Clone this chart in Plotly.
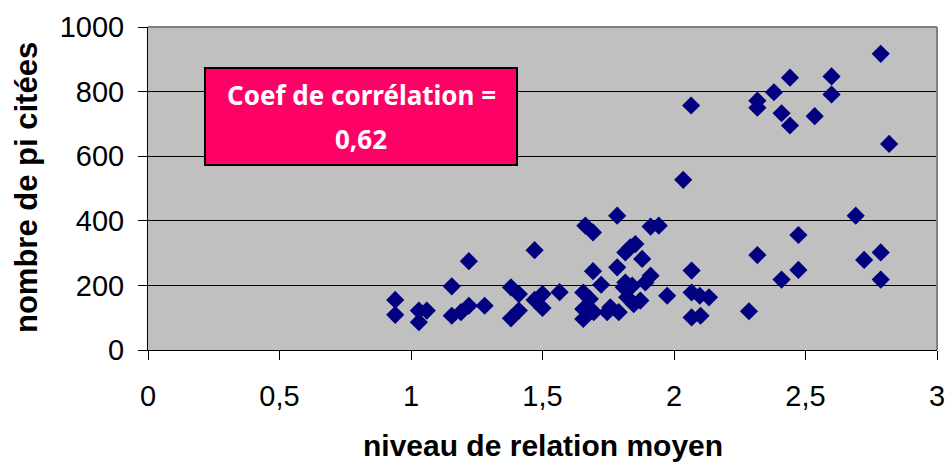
import plotly.graph_objects as go

# Niveau de relation moyen (x) et nombre de PI citées (y) pour chaque observation
niveau_relation = [
    0.94, 0.94, 1.03, 1.06, 1.03, 1.155, 1.22, 1.155, 1.19, 1.22, 1.28,
    1.38, 1.41, 1.38, 1.41, 1.47, 1.47, 1.50, 1.50, 1.565,
    1.655, 1.655, 1.655, 1.68, 1.695, 1.746, 1.758, 1.79, 1.822, 1.847, 1.872, 1.809,
    1.663, 1.692, 1.784, 1.911, 1.942, 1.834, 1.853, 1.815, 1.879, 1.784, 1.692,
    1.723, 1.911, 1.891, 1.815, 1.841, 1.974,
    2.035, 2.067, 2.067, 2.098, 2.133, 2.067, 2.101, 2.065,
    2.285, 2.317, 2.317, 2.317, 2.38, 2.441, 2.599, 2.599, 2.409, 2.441, 2.535,
    2.786, 2.818, 2.691, 2.473, 2.786, 2.723, 2.473, 2.409, 2.786,
]
nombre_pi = [
    155, 109, 122, 122, 86, 197, 275, 106, 117, 137, 137,
    194, 173, 98, 122, 309, 155, 173, 130, 179,
    178, 127, 96, 158, 117, 117, 132, 117, 163, 142, 153, 194,
    385, 364, 416, 382, 385, 318, 328, 302, 282, 256, 244,
    202, 230, 209, 209, 199, 168,
    527, 246, 178, 168, 163, 101, 106, 757,
    120, 294, 772, 750, 798, 843, 847, 791, 733, 695, 724,
    917, 638, 416, 356, 302, 279, 248, 218, 218,
]

x_ticks = [0, 0.5, 1, 1.5, 2, 2.5, 3]
x_ticklabels = ["0", "0,5", "1", "1,5", "2", "2,5", "3"]
y_ticks = [0, 200, 400, 600, 800, 1000]

coef_correlation = "0,62"

fig = go.Figure()
fig.add_trace(go.Scatter(
    x=niveau_relation, y=nombre_pi, mode="markers",
    marker=dict(symbol="diamond", size=14, color="#000080", line=dict(width=0)),
    showlegend=False,
))

axis_font = dict(family="Liberation Sans, Arial, sans-serif", size=29, color="black")
box_font = dict(family="Noto Sans, sans-serif", size=26, color="white")
title_font = dict(family="Liberation Sans, Arial, sans-serif", size=30, color="black")

fig.update_layout(
    width=949, height=466,
    margin=dict(l=148, r=12, t=27, b=116, autoexpand=False),
    paper_bgcolor="white",
    plot_bgcolor="#C0C0C0",
    font=axis_font,
    xaxis=dict(
        range=[0, 3], tickvals=x_ticks, ticktext=x_ticklabels,
        showgrid=False, zeroline=False, automargin=False,
        showline=True, linecolor="black", linewidth=1,
        ticks="outside", ticklen=9, tickcolor="black",
        ticklabelstandoff=11, tickfont=axis_font,
    ),
    yaxis=dict(
        range=[0, 1000], tickvals=y_ticks,
        showgrid=True, gridcolor="black", gridwidth=1,
        zeroline=False, automargin=False,
        showline=True, linecolor="black", linewidth=1,
        ticks="outside", ticklen=9, tickcolor="black",
        ticklabelstandoff=8, tickfont=axis_font,
    ),
    shapes=[
        # plot area frame (top and right edges)
        dict(type="line", xref="paper", yref="paper", x0=0, x1=1, y0=1, y1=1,
             line=dict(color="#808080", width=2)),
        dict(type="line", xref="paper", yref="paper", x0=1, x1=1, y0=0, y1=1,
             line=dict(color="#808080", width=2)),
        # correlation box
        dict(type="rect", xref="paper", yref="paper",
             x0=(205 - 148) / 789, x1=(517 - 148) / 789,
             y0=(350 - 165) / 323, y1=(350 - 68) / 323,
             fillcolor="#FF0066", line=dict(color="black", width=2), layer="above"),
    ],
    annotations=[
        dict(text="<b>Coef de corrélation =</b>", xref="paper", yref="paper",
             x=(361 - 148) / 789, y=(350 - 95) / 323, xanchor="center", yanchor="middle",
             showarrow=False, font=box_font),
        dict(text=f"<b>{coef_correlation}</b>", xref="paper", yref="paper",
             x=(361 - 148) / 789, y=(350 - 139) / 323, xanchor="center", yanchor="middle",
             showarrow=False, font=box_font),
        dict(text="<b>niveau de relation moyen</b>", xref="paper", yref="paper",
             x=(543 - 148) / 789, y=(350 - 445) / 323, xanchor="center", yanchor="middle",
             showarrow=False, font=title_font),
        dict(text="<b>nombre de pi citées</b>", xref="paper", yref="paper",
             x=(26 - 148) / 789, y=(350 - 188) / 323, xanchor="center", yanchor="middle",
             textangle=-90, showarrow=False, font=dict(title_font, size=31)),
    ],
)

fig.write_html("out.html")
